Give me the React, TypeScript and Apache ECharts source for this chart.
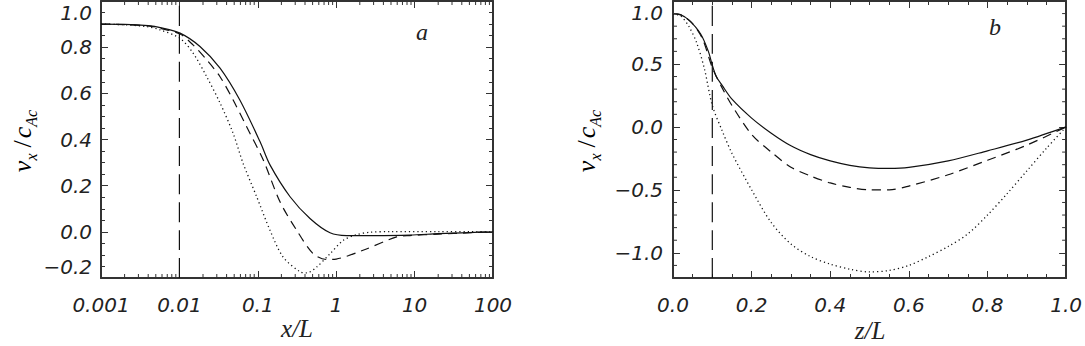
import React, { useEffect, useRef } from 'react';
import * as echarts from 'echarts';

// ---------- Panel a (log x) ----------
const xTicksA = [0.001, 0.01, 0.1, 1, 10, 100];
const xTickLabelsA = ['0.001', '0.01', '0.1', '1', '10', '100'];
const xMinorA = [
  0.002, 0.003, 0.004, 0.005, 0.006, 0.007, 0.008, 0.009,
  0.02, 0.03, 0.04, 0.05, 0.06, 0.07, 0.08, 0.09,
  0.2, 0.3, 0.4, 0.5, 0.6, 0.7, 0.8, 0.9,
  2, 3, 4, 5, 6, 7, 8, 9,
  20, 30, 40, 50, 60, 70, 80, 90,
];
const boundaryA = 0.01;

const solidA: [number, number][] = [
  [0.001, 0.9], [0.002, 0.899], [0.004, 0.893], [0.0057, 0.885], [0.0102, 0.861],
  [0.0183, 0.803], [0.033, 0.709], [0.059, 0.571], [0.107, 0.39], [0.143, 0.29],
  [0.258, 0.152], [0.463, 0.058], [0.834, -0.004], [1.36, -0.016], [3, -0.016],
  [8.7, -0.014], [20, -0.008], [50, -0.003], [100, 0.0],
];
const dashedA: [number, number][] = [
  [0.001, 0.9], [0.002, 0.898], [0.004, 0.892], [0.0057, 0.882], [0.0102, 0.857],
  [0.0149, 0.81], [0.0223, 0.745], [0.033, 0.672], [0.0483, 0.572], [0.0721, 0.455],
  [0.1175, 0.311], [0.192, 0.13], [0.313, 0.007], [0.51, -0.095], [0.757, -0.12],
  [1.0, -0.118], [2.2, -0.08], [5.9, -0.022], [8.7, -0.016], [20, -0.01],
  [50, -0.004], [100, 0.0],
];
const dottedA: [number, number][] = [
  [0.001, 0.9], [0.002, 0.897], [0.004, 0.888], [0.0057, 0.875], [0.0102, 0.838],
  [0.0149, 0.775], [0.0223, 0.672], [0.033, 0.558], [0.0483, 0.428], [0.0647, 0.298],
  [0.0968, 0.152], [0.143, 0.007], [0.209, -0.108], [0.345, -0.173], [0.42, -0.178],
  [0.564, -0.152], [0.834, -0.095], [1.23, -0.037], [1.82, -0.012], [2.7, -0.002],
  [5, 0.001], [20, 0.001], [100, 0.0],
];

// ---------- Panel b (linear x) ----------
const yMinorB = [
  -1.1, -0.9, -0.8, -0.7, -0.6, -0.4, -0.3, -0.2, -0.1,
  0.1, 0.2, 0.3, 0.4, 0.6, 0.7, 0.8, 0.9,
];
const boundaryB = 0.1;

const solidB: [number, number][] = [
  [0, 0.9], [0.02, 0.89], [0.04, 0.85], [0.07, 0.74], [0.09, 0.6], [0.1, 0.49],
  [0.11, 0.4], [0.125, 0.33], [0.15, 0.22], [0.2, 0.07], [0.25, -0.05], [0.3, -0.15],
  [0.35, -0.22], [0.4, -0.27], [0.45, -0.305], [0.5, -0.325], [0.55, -0.33],
  [0.6, -0.322], [0.7, -0.27], [0.8, -0.19], [0.9, -0.105], [1.0, 0.0],
];
const dashedB: [number, number][] = [
  [0, 0.9], [0.02, 0.89], [0.05, 0.82], [0.075, 0.7], [0.1, 0.47], [0.125, 0.31],
  [0.15, 0.17], [0.2, -0.06], [0.25, -0.2], [0.3, -0.32], [0.35, -0.39],
  [0.4, -0.445], [0.45, -0.48], [0.5, -0.5], [0.55, -0.5], [0.6, -0.47],
  [0.7, -0.38], [0.8, -0.265], [0.9, -0.145], [1.0, 0.0],
];
const dottedB: [number, number][] = [
  [0, 0.9], [0.02, 0.88], [0.04, 0.8], [0.06, 0.67], [0.08, 0.46], [0.1, 0.17],
  [0.125, -0.03], [0.15, -0.21], [0.2, -0.5], [0.25, -0.76], [0.3, -0.93],
  [0.35, -1.03], [0.4, -1.09], [0.45, -1.13], [0.5, -1.152], [0.55, -1.14],
  [0.6, -1.1], [0.65, -1.03], [0.7, -0.95], [0.75, -0.85], [0.8, -0.7],
  [0.85, -0.53], [0.9, -0.35], [0.95, -0.17], [1.0, 0.0],
];

const AXIS = '#333';
const INK = '#111';
const LABEL = {
  fontFamily: 'DejaVu Sans',
  fontStyle: 'italic' as const,
  fontSize: 20,
  color: '#222',
};
const SERIF = 'Liberation Serif';
const MAJOR = 7;
const MINOR = 4;

function fmt(v: number): string {
  const x = Math.abs(v) < 1e-9 ? 0 : v;
  return x.toFixed(1).replace('-', '\u2212');
}

function logLabel(v: number): string {
  for (let i = 0; i < xTicksA.length; i++) {
    if (Math.abs(Math.log10(v) - Math.log10(xTicksA[i])) < 0.01) return xTickLabelsA[i];
  }
  return '';
}

const shiftRich = {
  t: { ...LABEL, padding: [24, 0, 0, 0] },
  b: { ...LABEL, padding: [0, 0, 22, 0] },
};

function lineSeries(data: [number, number][], xi: number, yi: number, type: any, width = 1.2) {
  return {
    type: 'line', xAxisIndex: xi, yAxisIndex: yi, data,
    showSymbol: false, symbol: 'none', smooth: 0.3,
    lineStyle: { color: INK, width, type }, z: 3,
  };
}

const ylabelRich = {
  v: { fontFamily: SERIF, fontStyle: 'italic', fontSize: 26, lineHeight: 34, color: '#222' },
  s: { fontFamily: SERIF, fontStyle: 'italic', fontSize: 16, lineHeight: 16, verticalAlign: 'bottom', color: '#222' },
  sl: { fontFamily: SERIF, fontSize: 26, lineHeight: 34, color: '#222', padding: [0, 2, 0, 6] },
};

// minor ticks on both opposite frame edges, placed through the axes' own scales
function frameTicks(xi: number, yi: number, data: number[][], horizontal: boolean, xr: number[], yr: number[]) {
  return {
    type: 'custom', xAxisIndex: xi, yAxisIndex: yi, silent: true, clip: false, z: 4,
    data,
    renderItem: (_p: any, api: any) => {
      const st = { stroke: AXIS, lineWidth: 1 };
      if (horizontal) {
        const x = api.value(0);
        const b = api.coord([x, yr[0]]);
        const t = api.coord([x, yr[1]]);
        return {
          type: 'group',
          children: [
            { type: 'line', shape: { x1: b[0], y1: b[1], x2: b[0], y2: b[1] - MINOR }, style: st },
            { type: 'line', shape: { x1: t[0], y1: t[1], x2: t[0], y2: t[1] + MINOR }, style: st },
          ],
        };
      }
      const y = api.value(1);
      const l = api.coord([xr[0], y]);
      const r = api.coord([xr[1], y]);
      return {
        type: 'group',
        children: [
          { type: 'line', shape: { x1: l[0], y1: l[1], x2: l[0] + MINOR, y2: l[1] }, style: st },
          { type: 'line', shape: { x1: r[0], y1: r[1], x2: r[0] - MINOR, y2: r[1] }, style: st },
        ],
      };
    },
  };
}

export default function App() {
  const ref = useRef<HTMLDivElement>(null);
  useEffect(() => {
    if (!ref.current) return;
    const chart = echarts.init(ref.current, undefined, { renderer: 'svg' });
    const tickStyle = { color: AXIS, width: 1 };
    const axisLine = { show: true, onZero: false, lineStyle: { color: AXIS, width: 2 } };
    const tick = { show: true, inside: true, length: MAJOR, lineStyle: tickStyle };
    const minor = (n: number) => ({ show: true, splitNumber: n, length: MINOR, lineStyle: tickStyle });

    const option: any = {
      animation: false,
      backgroundColor: '#fff',
      grid: [
        { left: 101, top: 1, width: 392, height: 277 },
        { left: 673, top: 1, width: 394, height: 277 },
      ],
      xAxis: [
        {
          gridIndex: 0, type: 'log', logBase: 10, min: 0.001, max: 100, position: 'bottom',
          axisLine, splitLine: { show: false }, axisTick: tick,
          axisLabel: { ...LABEL, margin: 17, formatter: logLabel },
        },
        {
          gridIndex: 0, type: 'log', logBase: 10, min: 0.001, max: 100, position: 'top',
          axisLine, splitLine: { show: false }, axisTick: tick,
          axisLabel: { show: false },
        },
        {
          gridIndex: 1, type: 'value', min: 0, max: 1, interval: 0.2, position: 'bottom',
          axisLine, splitLine: { show: false }, axisTick: tick, minorTick: minor(4),
          axisLabel: { ...LABEL, margin: 17, formatter: (v: number) => fmt(v) },
        },
        {
          gridIndex: 1, type: 'value', min: 0, max: 1, interval: 0.2, position: 'top',
          axisLine, splitLine: { show: false }, axisTick: tick, minorTick: minor(4),
          axisLabel: { show: false },
        },
      ],
      yAxis: [
        {
          gridIndex: 0, type: 'value', min: -0.2, max: 1.0, interval: 0.2, position: 'left',
          axisLine, splitLine: { show: false }, axisTick: tick, minorTick: minor(4),
          axisLabel: {
            ...LABEL, margin: 9, rich: shiftRich,
            formatter: (v: number) => {
              const s = fmt(v);
              if (v > 0.99) return '{t|' + s + '}';
              if (v < -0.19) return '{b|' + s + '}';
              return s;
            },
          },
        },
        {
          gridIndex: 0, type: 'value', min: -0.2, max: 1.0, interval: 0.2, position: 'right',
          axisLine, splitLine: { show: false }, axisTick: tick, minorTick: minor(4),
          axisLabel: { show: false },
        },
        {
          gridIndex: 1, type: 'value', min: -1.2, max: 1.0, splitNumber: 5, position: 'left',
          axisLine, splitLine: { show: false }, axisTick: tick,
          axisLabel: {
            ...LABEL, margin: 10, rich: shiftRich,
            formatter: (v: number) => {
              if (v < -1.1) return '';
              const s = fmt(v);
              if (v > 0.99) return '{t|' + s + '}';
              return s;
            },
          },
        },
        {
          gridIndex: 1, type: 'value', min: -1.2, max: 1.0, splitNumber: 5, position: 'right',
          axisLine, splitLine: { show: false }, axisTick: tick,
          axisLabel: { show: false },
        },
      ],
      series: [
        lineSeries(solidA, 0, 0, 'solid'),
        lineSeries(dashedA, 0, 0, [9, 6]),
        lineSeries(dottedA, 0, 0, [1.2, 3], 1.3),
        lineSeries([[boundaryA, -0.2], [boundaryA, 1.0]], 1, 1, [20, 8]),
        lineSeries(solidB, 2, 2, 'solid'),
        lineSeries(dashedB, 2, 2, [9, 6]),
        lineSeries(dottedB, 2, 2, [1.2, 3], 1.3),
        lineSeries([[boundaryB, -1.2], [boundaryB, 1.0]], 3, 3, [20, 8]),
        frameTicks(0, 0, xMinorA.map((v) => [v, 0]), true, [0.001, 100], [-0.2, 1.0]),
        frameTicks(2, 2, yMinorB.map((v) => [0.5, v]), false, [0, 1], [-1.2, 1.0]),
      ],
      graphic: [
        { type: 'text', x: 422, y: 32, style: { text: 'a', fontFamily: SERIF, fontStyle: 'italic', fontSize: 24, fill: '#222', align: 'center', verticalAlign: 'middle' } },
        { type: 'text', x: 995, y: 27, style: { text: 'b', fontFamily: SERIF, fontStyle: 'italic', fontSize: 24, fill: '#222', align: 'center', verticalAlign: 'middle' } },
        { type: 'text', x: 297, y: 328, style: { text: 'x/L', fontFamily: SERIF, fontStyle: 'italic', fontSize: 25, fill: '#222', align: 'center', verticalAlign: 'middle' } },
        { type: 'text', x: 870, y: 330, style: { text: 'z/L', fontFamily: SERIF, fontStyle: 'italic', fontSize: 25, fill: '#222', align: 'center', verticalAlign: 'middle' } },
        { type: 'text', x: 22, y: 141, rotation: Math.PI / 2, style: { text: '{v|v}{s|x}{sl|/}{v|c}{s|Ac}', rich: ylabelRich, align: 'center', verticalAlign: 'middle' } },
        { type: 'text', x: 586, y: 141, rotation: Math.PI / 2, style: { text: '{v|v}{s|x}{sl|/}{v|c}{s|Ac}', rich: ylabelRich, align: 'center', verticalAlign: 'middle' } },
      ],
    };
    chart.setOption(option);
    return () => chart.dispose();
  }, []);
  return <div ref={ref} style={{ position: 'absolute', left: 0, top: 0, width: 1085, height: 346 }} />;
}
